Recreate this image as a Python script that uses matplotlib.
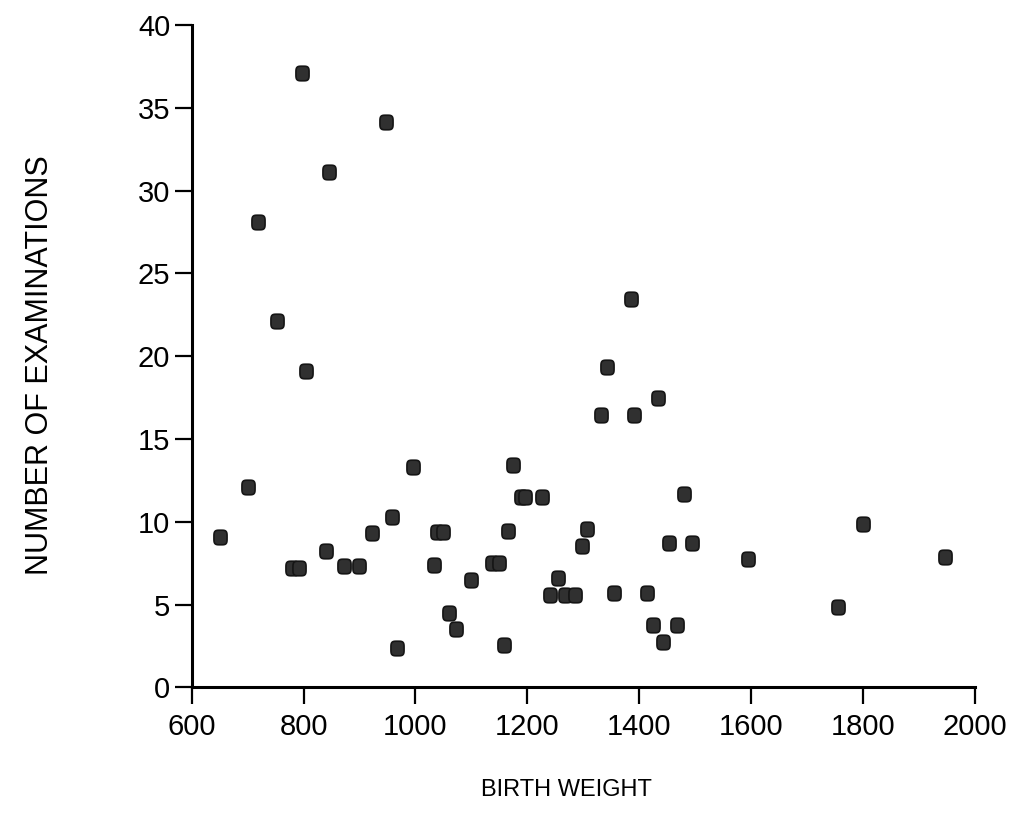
import matplotlib

matplotlib.use("Agg")
import matplotlib.pyplot as plt
import numpy as np
from matplotlib.path import Path

# birth weight (g) vs number of examinations, one entry per infant
birth_weight = [
    650, 700, 719, 752, 780, 792, 797, 805, 840, 846,
    872, 899, 923, 948, 958, 967, 996, 1033, 1038, 1050,
    1060, 1072, 1100, 1136, 1150, 1158, 1166, 1175, 1188, 1196,
    1227, 1240, 1255, 1267, 1286, 1297, 1306, 1331, 1343, 1355,
    1385, 1390, 1413, 1425, 1433, 1443, 1453, 1468, 1480, 1495,
    1595, 1756, 1800, 1946,
]
n_exams = [
    9.1, 12.1, 28.1, 22.1, 7.2, 7.2, 37.1, 19.1, 8.25, 31.1,
    7.3, 7.3, 9.3, 34.15, 10.3, 2.4, 13.3, 7.4, 9.4, 9.4,
    4.5, 3.5, 6.5, 7.5, 7.5, 2.55, 9.45, 13.4, 11.5, 11.5,
    11.5, 5.6, 6.6, 5.6, 5.6, 8.55, 9.55, 16.45, 19.35, 5.7,
    23.45, 16.45, 5.7, 3.75, 17.5, 2.75, 8.7, 3.75, 11.65, 8.7,
    7.75, 4.85, 9.85, 7.9,
]

x_ticks = [600, 800, 1000, 1200, 1400, 1600, 1800, 2000]
y_ticks = [0, 5, 10, 15, 20, 25, 30, 35, 40]

# rounded-square blob (superellipse), a touch taller than wide
t = np.linspace(0, 2 * np.pi, 60)
bx = np.sign(np.cos(t)) * np.abs(np.cos(t)) ** 0.5 * 0.9
by = np.sign(np.sin(t)) * np.abs(np.sin(t)) ** 0.5
blob = Path(np.column_stack([bx, by]), closed=True)

fig = plt.figure(figsize=(10.12, 8.33), dpi=100)
fig.patch.set_facecolor("white")
ax = fig.add_axes([0.1894, 0.1749, 0.7740, 0.7951])

ax.plot(birth_weight, n_exams, ls="none", marker=blob, ms=10.5,
        mfc="#303030", mec="#151515", mew=1.2, clip_on=False)

ax.set_xlim(600, 2000)
ax.set_ylim(0, 40)
ax.set_xticks(x_ticks)
ax.set_yticks(y_ticks)

for side in ("top", "right"):
    ax.spines[side].set_visible(False)
for side in ("left", "bottom"):
    ax.spines[side].set_linewidth(2.2)
    ax.spines[side].set_color("black")

ax.tick_params(axis="both", direction="out", width=1.6, length=12.5,
               color="black", labelsize=21, labelcolor="black")
ax.tick_params(axis="y", pad=3)
ax.tick_params(axis="x", pad=6)
for lab in ax.get_xticklabels() + ax.get_yticklabels():
    lab.set_family("Liberation Sans")

ax.set_xlabel("BIRTH WEIGHT", fontsize=17, family="Liberation Sans")
ax.xaxis.set_label_coords(0.479, -0.139)
ax.set_ylabel("NUMBER OF EXAMINATIONS", fontsize=22, family="Liberation Sans")
ax.yaxis.set_label_coords(-0.174, 0.487)

fig.savefig("out.png", dpi=100, facecolor="white")
plt.close(fig)
